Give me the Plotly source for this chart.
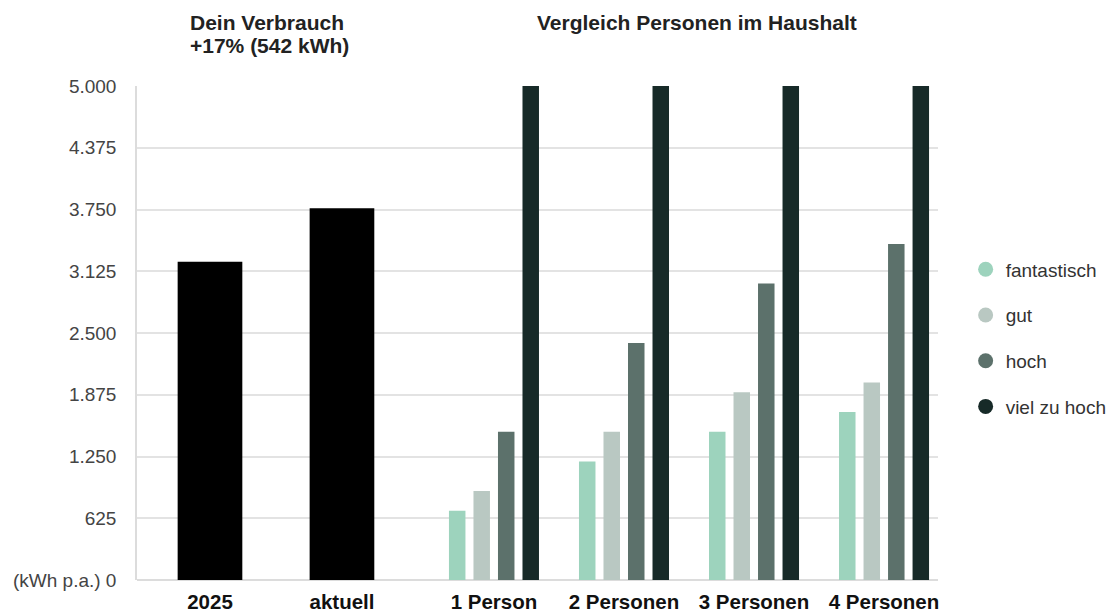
import plotly.graph_objects as go

# ---- data ----
own_categories = ["2025", "aktuell"]
own_values = [3220, 3762]

group_categories = ["1 Person", "2 Personen", "3 Personen", "4 Personen"]
series_names = ["fantastisch", "gut", "hoch", "viel zu hoch"]
fantastisch = [700, 1200, 1500, 1700]
gut = [900, 1500, 1900, 2000]
hoch = [1500, 2400, 3000, 3400]
viel_zu_hoch = [5000, 5000, 5000, 5000]

y_tickvals = [0, 625, 1250, 1875, 2500, 3125, 3750, 4375, 5000]
y_ticktext = ["(kWh p.a.) 0", "625", "1.250", "1.875", "2.500", "3.125", "3.750", "4.375", "5.000"]

title_left_1 = "Dein Verbrauch"
title_left_2 = "+17% (542 kWh)"
title_right = "Vergleich Personen im Haushalt"

colors = ["#9dd3bd", "#b9c8c2", "#5c716b", "#172a28"]
FONT = "Liberation Sans, Arial, sans-serif"

fig = go.Figure()

fig.add_trace(go.Bar(
    x=own_categories, y=own_values, xaxis="x", yaxis="y",
    marker=dict(color="#000000", line=dict(width=0)),
    width=0.49, showlegend=False, name="Dein Verbrauch",
))

for name, vals, col in zip(series_names, [fantastisch, gut, hoch, viel_zu_hoch], colors):
    fig.add_trace(go.Bar(
        x=group_categories, y=vals, xaxis="x2", yaxis="y",
        marker=dict(color=col, line=dict(width=0)),
        name=name, showlegend=False,
    ))
    # legend entry with circular marker
    fig.add_trace(go.Scatter(
        x=[None], y=[None], mode="markers", xaxis="x2", yaxis="y",
        marker=dict(color=col, size=15, symbol="circle"),
        name=name, legendgroup=name, showlegend=True,
    ))

split = (430 - 137) / 801

fig.update_layout(
    width=1110, height=608,
    margin=dict(l=129, r=180, t=78, b=36, autoexpand=False),
    paper_bgcolor="white", plot_bgcolor="white",
    font=dict(family=FONT, size=19, color="#444444"),
    barmode="group", bargap=0.246, bargroupgap=0.327,
    xaxis=dict(
        domain=[0, split], anchor="y", range=[-0.553, 1.667],
        showgrid=False, showline=False, zeroline=False, ticks="",
        tickfont=dict(family=FONT, size=20.5, color="#111111", weight="bold"),
        ticklabelstandoff=7, automargin=False,
    ),
    xaxis2=dict(
        domain=[split, 1], anchor="y", range=[-0.492, 3.415],
        showgrid=False, showline=False, zeroline=False, ticks="",
        tickfont=dict(family=FONT, size=20.5, color="#111111", weight="bold"),
        ticklabelstandoff=7, automargin=False,
    ),
    yaxis=dict(
        range=[0, 5000], tickvals=y_tickvals, ticktext=y_ticktext,
        showgrid=True, gridcolor="#e3e3e3", gridwidth=1.5,
        showline=True, linecolor="#dcdcdc", linewidth=1.5,
        zeroline=True, zerolinecolor="#dcdcdc", zerolinewidth=1.5,
        ticks="", ticklabelstandoff=15, automargin=False,
        tickfont=dict(family=FONT, size=19, color="#444444"),
    ),
    legend=dict(
        x=1.0345, xanchor="left", y=0.49, yanchor="middle",
        font=dict(family=FONT, size=19, color="#333333"),
        tracegroupgap=18, bgcolor="rgba(0,0,0,0)",
    ),
    annotations=[
        dict(text=title_left_1, xref="paper", yref="paper", x=(188 - 137) / 801, y=(580 - 23) / 494,
             xanchor="left", yanchor="middle", showarrow=False,
             font=dict(family=FONT, size=21, color="#222222", weight="bold")),
        dict(text=title_left_2, xref="paper", yref="paper", x=(188 - 137) / 801, y=(580 - 46) / 494,
             xanchor="left", yanchor="middle", showarrow=False,
             font=dict(family=FONT, size=21, color="#222222", weight="bold")),
        dict(text=title_right, xref="paper", yref="paper", x=(697 - 137) / 801, y=(580 - 22) / 494,
             xanchor="center", yanchor="middle", showarrow=False,
             font=dict(family=FONT, size=21, color="#222222", weight="bold")),
    ],
)

fig.write_html("out.html")
